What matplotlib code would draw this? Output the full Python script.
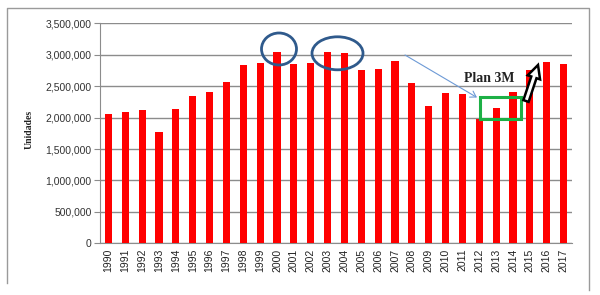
import matplotlib
matplotlib.use("Agg")
import matplotlib.pyplot as plt
from matplotlib.patches import Ellipse, Rectangle, FancyArrow, FancyArrowPatch
from matplotlib.ticker import FuncFormatter

years = [str(y) for y in range(1990, 2018)]
units = [2050000, 2090000, 2125000, 1770000, 2140000, 2340000, 2405000, 2570000,
         2835000, 2870000, 3045000, 2855000, 2870000, 3045000, 3030000, 2755000,
         2770000, 2900000, 2555000, 2185000, 2395000, 2375000, 1980000, 2155000,
         2410000, 2755000, 2890000, 2860000]
yticks = [0, 500000, 1000000, 1500000, 2000000, 2500000, 3000000, 3500000]
ylabel = "Unidades"
plan_label = "Plan 3M"

fig = plt.figure(figsize=(6.0, 2.95), dpi=100)
ax = fig.add_axes([100/600, 1-243.3/295, 472/600, 220/295])

x = list(range(len(years)))
ax.bar(x, units, width=0.42, color="#ff0000", zorder=3)
ax.set_xlim(-0.5, len(years)-0.5)
ax.set_ylim(0, 3500000)
ax.set_yticks(yticks)
ax.yaxis.set_major_formatter(FuncFormatter(lambda v, p: f"{int(v):,}"))
ax.set_xticks(x)
ax.set_xticklabels(years, rotation=90, fontsize=7.5, family="Liberation Sans", color="#222222")
for t in ax.get_yticklabels():
    t.set_fontsize(7.5)
    t.set_family("Liberation Sans")
    t.set_color("#333333")
ax.grid(axis="y", color="#8c8c8c", linewidth=1.0, zorder=0)
for s in ["top", "right"]:
    ax.spines[s].set_visible(False)
ax.spines["left"].set_color("#8c8c8c")
ax.spines["bottom"].set_color("#8c8c8c")
ax.tick_params(axis="y", length=4, color="#8c8c8c", pad=2)
ax.tick_params(axis="x", length=0, pad=4)

# overlay in pixel coordinates for the drawn annotations
ov = fig.add_axes([0, 0, 1, 1], zorder=20)
ov.set_xlim(0, 600)
ov.set_ylim(295, 0)
ov.axis("off")
ov.patch.set_alpha(0)

ov.text(29, 129, ylabel, rotation=90, ha="center", va="center",
        fontsize=7, fontweight="bold", family="Liberation Serif", color="#222222")

blue = "#2f5a8c"
ov.add_patch(Ellipse((279, 49), 35, 32, fill=False, edgecolor=blue, linewidth=2.0))
ov.add_patch(Ellipse((337.5, 53.3), 51, 33, fill=False, edgecolor=blue, linewidth=2.0))
ov.add_patch(FancyArrowPatch((405, 55), (477, 97.5),
                             arrowstyle="->,head_length=4,head_width=2.5", color="#6d9ad6",
                             linewidth=0.8, shrinkA=0, shrinkB=0))
ov.add_patch(Rectangle((479.5, 97.3), 41.5, 22, fill=False, edgecolor="#1db046", linewidth=2.2))
ov.text(489, 79, plan_label, ha="center", va="center", fontsize=10,
        fontweight="bold", family="Liberation Serif", color="#222222")
ov.add_patch(FancyArrow(526, 101, 12, -36, width=5.5, head_width=13, head_length=13,
                        length_includes_head=True, facecolor="white", edgecolor="black",
                        linewidth=1.8))

# outer chart border
ov.plot([7, 7, 588.5, 588.5], [283, 8, 8, 290], color="#9a9a9a", linewidth=1.0)

fig.savefig("out.png", dpi=100)
